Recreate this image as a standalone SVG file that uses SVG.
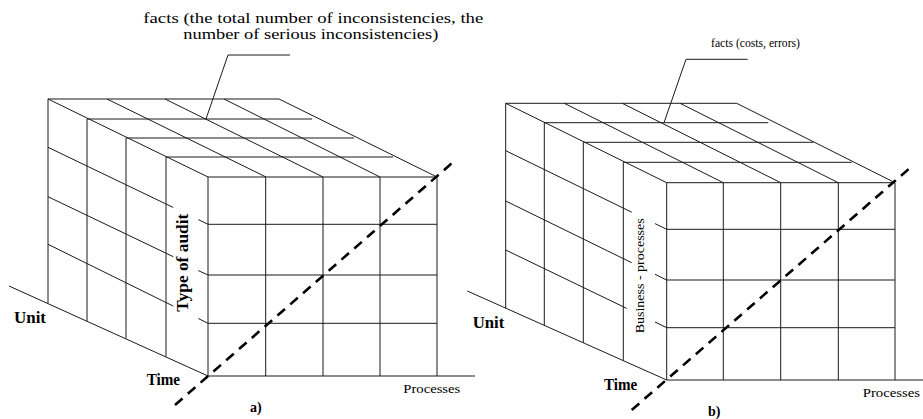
<svg xmlns="http://www.w3.org/2000/svg" width="923" height="419" viewBox="0 0 923 419">
<style>
.g{stroke:#1a1a1a;stroke-width:1;fill:none}
.d{stroke:#000;stroke-width:2.6;fill:none;stroke-dasharray:10,7}
text{font-family:'Liberation Serif','Times New Roman',serif;fill:#000}
.b{font-weight:bold}
</style>
<rect width="923" height="419" fill="#fff"/>
<g id="cube-a">
<path class="g" d="M48,99H279 M87,119H312 M126,138H354 M166,157H393 M208,177H437
M48,99L208,177 M107,99L266,177 M165,99L323,177 M224,99L380,177 M279,99L437,177
M208,224.3H437 M208,275H437 M208,323.3H437 M208,376H475
M208,177V376 M265.7,177V376 M323,177V376 M380,177V376 M437,177V376
M48,99V303.3 M87,119V320.9 M126,138V338.6 M166,157V356.7
M9,286L208,376
M48,147.3L173.3,207.5 M198.3,219.6L208,224.3
M48,196.7L173.3,256.7 M198.3,270.6L208,275
M48,244.3L173.3,306.1 M198.3,318.5L208,323.3"/>
<path class="d" d="M175,405L456.7,159"/>
</g>
<g id="cube-b">
<path class="g" d="M505.7,103.3H736.7 M544.3,122.7H768.3 M583.3,142.3H813.3 M623.3,162.3H851.7 M666.7,182.7H895
M505.7,103.3L666.7,182.7 M564.3,103.3L723.3,182.7 M622.3,103.3L780.7,182.7 M680,103.3L838.3,182.7 M736.7,103.3L895,182.7
M666.7,229.3H895 M666.7,280H895 M666.7,327.7H895 M666.7,380H923
M666.7,182.7V380 M723.3,182.7V380 M780.7,182.7V380 M838.3,182.7V380 M895,182.7V380
M505.7,103.3V308.1 M544.3,122.7V325.4 M583.3,142.3V342.8 M623.3,162.3V360.6
M467.3,291L666.7,380
M505.7,150.7L631.7,212.2 M655,223.6L666.7,229.3
M505.7,201L631.7,262.7 M655,274.3L666.7,280
M505.7,250L626.7,308.4 M655,322L666.7,327.7"/>
<path class="d" d="M631.7,410L913.3,165"/>
</g>
<g id="leaders">
<path class="g" d="M290,55H228L206,119"/>
<path class="g" d="M747.7,59.3H686L664,122.7"/>
</g>
<g id="labels-a">
<text x="143.3" y="22.5" font-size="14.5" textLength="340" lengthAdjust="spacingAndGlyphs">facts (the total number of inconsistencies, the</text>
<text x="183.3" y="39" font-size="14.5" textLength="255" lengthAdjust="spacingAndGlyphs">number of serious inconsistencies)</text>
<text class="b" x="14" y="323.3" font-size="17" textLength="32" lengthAdjust="spacingAndGlyphs">Unit</text>
<text class="b" x="146.7" y="385" font-size="17" textLength="33.3" lengthAdjust="spacingAndGlyphs">Time</text>
<text class="b" transform="translate(188,311.7) rotate(-90)" font-size="16" textLength="98" lengthAdjust="spacingAndGlyphs">Type of audit</text>
<text x="403.3" y="392.7" font-size="13.5" textLength="57" lengthAdjust="spacingAndGlyphs">Processes</text>
<text class="b" x="250" y="411.5" font-size="14">a)</text>
</g>
<g id="labels-b">
<text x="711" y="47.3" font-size="13" textLength="89" lengthAdjust="spacingAndGlyphs">facts (costs, errors)</text>
<text class="b" x="472.7" y="327.7" font-size="17" textLength="31.6" lengthAdjust="spacingAndGlyphs">Unit</text>
<text class="b" x="604" y="390" font-size="17" textLength="33.3" lengthAdjust="spacingAndGlyphs">Time</text>
<text transform="translate(644.3,333.3) rotate(-90)" font-size="13.5" textLength="115" lengthAdjust="spacingAndGlyphs">Business - processes</text>
<text x="862.7" y="396.7" font-size="13.5" textLength="57.3" lengthAdjust="spacingAndGlyphs">Processes</text>
<text class="b" x="708" y="416" font-size="14">b)</text>
</g>
</svg>
